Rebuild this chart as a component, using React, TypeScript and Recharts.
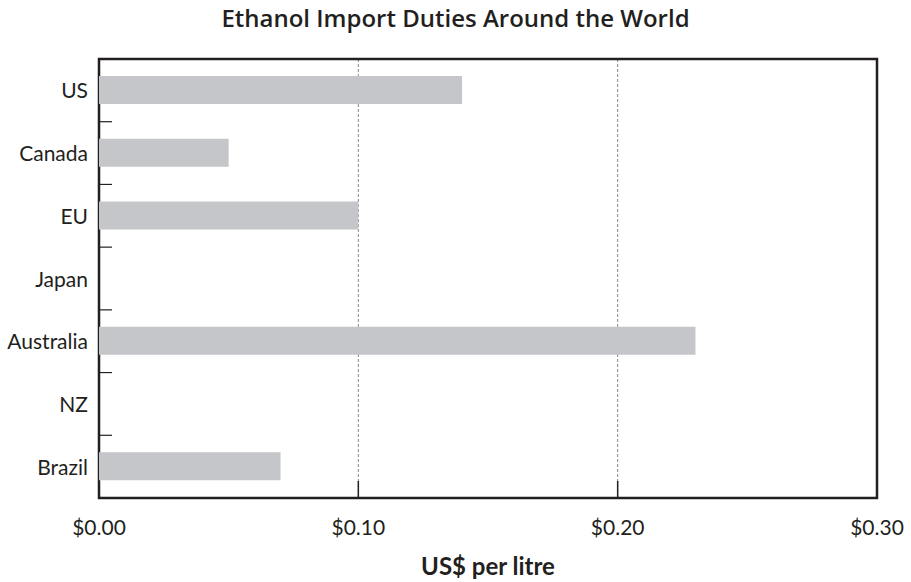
import { BarChart, Bar, XAxis, YAxis, CartesianGrid, ReferenceArea } from "recharts";

const WIDTH = 911;
const HEIGHT = 582;
const PLOT_LEFT = 99;
const PLOT_RIGHT = 877;
const PLOT_TOP = 59;
const PLOT_BOTTOM = 498;
const X_AXIS_HEIGHT = 30;
const FONT = "Lato, 'Open Sans', sans-serif";
const TITLE_FONT = "'Open Sans', sans-serif";
const INK = "#231f20";
const BAR_COLOR = "#c5c6c9";

const countries = ["US", "Canada", "EU", "Japan", "Australia", "NZ", "Brazil"];
const duties = [0.14, 0.05, 0.1, 0, 0.23, 0, 0.07];
const xTicks = [0, 0.1, 0.2, 0.3];

const data = countries.map((country, i) => ({ country, duty: duties[i] }));
const band = (PLOT_BOTTOM - PLOT_TOP) / countries.length;
const X_MAX = xTicks[xTicks.length - 1];

function CountryTick(props: any) {
  const { y, payload, index } = props;
  return (
    <g>
      <text
        x={PLOT_LEFT - 11}
        y={y}
        dy={8}
        textAnchor="end"
        fontSize={21}
        fontFamily={FONT}
        fill={INK}
      >
        {payload.value}
      </text>
      {index < countries.length - 1 && (
        <line
          x1={PLOT_LEFT + 1}
          x2={PLOT_LEFT + 13}
          y1={y + band / 2}
          y2={y + band / 2}
          stroke={INK}
          strokeWidth={1.2}
        />
      )}
    </g>
  );
}

function DollarTick(props: any) {
  const { x, payload } = props;
  const inner = payload.value > 0 && payload.value < X_MAX;
  return (
    <g>
      <text
        x={x}
        y={PLOT_BOTTOM + 37}
        textAnchor="middle"
        fontSize={21}
        fontFamily={FONT}
        fill={INK}
      >
        {`$${payload.value.toFixed(2)}`}
      </text>
      {inner && (
        <line
          x1={x}
          x2={x}
          y1={PLOT_BOTTOM}
          y2={PLOT_BOTTOM - 17}
          stroke={INK}
          strokeWidth={1.5}
        />
      )}
    </g>
  );
}

export default function App() {
  return (
    <div style={{ position: "absolute", left: 0, top: 0, width: WIDTH, height: HEIGHT, background: "#fff" }}>
      <div
        style={{
          position: "absolute",
          left: 0,
          width: WIDTH,
          top: 1,
          textAlign: "center",
          fontFamily: TITLE_FONT,
          fontWeight: 600,
          fontSize: 24,
          color: INK,
        }}
      >
        Ethanol Import Duties Around the World
      </div>
      <BarChart
        width={WIDTH}
        height={HEIGHT}
        data={data}
        layout="vertical"
        margin={{
          top: PLOT_TOP,
          right: WIDTH - PLOT_RIGHT,
          bottom: HEIGHT - PLOT_BOTTOM - X_AXIS_HEIGHT,
          left: 0,
        }}
      >
        <CartesianGrid horizontal={false} stroke="#888" strokeDasharray="3 2" strokeWidth={1} />
        <XAxis
          type="number"
          domain={[0, X_MAX]}
          ticks={xTicks}
          tick={<DollarTick />}
          tickLine={false}
          axisLine={false}
          height={X_AXIS_HEIGHT}
          interval={0}
        />
        <YAxis
          type="category"
          dataKey="country"
          width={PLOT_LEFT}
          tick={<CountryTick />}
          tickLine={false}
          axisLine={false}
          interval={0}
        />
        <Bar dataKey="duty" fill={BAR_COLOR} barSize={28} isAnimationActive={false} />
        <ReferenceArea x1={0} x2={X_MAX} fill="none" stroke={INK} strokeWidth={2.5} ifOverflow="visible" />
      </BarChart>
      <div
        style={{
          position: "absolute",
          left: PLOT_LEFT,
          width: PLOT_RIGHT - PLOT_LEFT,
          top: 551,
          textAlign: "center",
          fontFamily: FONT,
          fontWeight: 700,
          fontSize: 24,
          color: INK,
        }}
      >
        US$ per litre
      </div>
    </div>
  );
}
